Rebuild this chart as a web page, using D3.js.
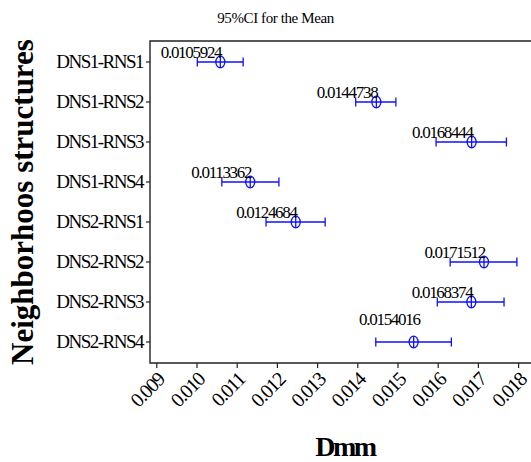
<!DOCTYPE html>
<html>
<head>
<meta charset="utf-8">
<script src="https://cdn.jsdelivr.net/npm/d3@7"></script>
<style>
  body { margin: 0; background: #fff; }
  svg { display: block; font-family: "Liberation Serif", "DejaVu Serif", serif; }
</style>
</head>
<body>
<svg id="chart" width="531" height="462"></svg>
<script>
// groups, top to bottom
var groups = ["DNS1-RNS1", "DNS1-RNS2", "DNS1-RNS3", "DNS1-RNS4",
              "DNS2-RNS1", "DNS2-RNS2", "DNS2-RNS3", "DNS2-RNS4"];
var means = [0.0105924, 0.0144738, 0.0168444, 0.0113362,
             0.0124684, 0.0171512, 0.0168374, 0.0154016];
var lower = [0.01002, 0.01396, 0.01596, 0.01063,
             0.01173, 0.01631, 0.01599, 0.01446];
var upper = [0.01116, 0.01496, 0.01771, 0.01205,
             0.01320, 0.01797, 0.01765, 0.01634];
var xTicks = [0.009, 0.010, 0.011, 0.012, 0.013, 0.014, 0.015, 0.016, 0.017, 0.018];

var svg = d3.select("#chart");
var blue = "#1010ff";

var plotLeft = 150, plotTop = 41, plotBottom = 363, plotRight = 545;

var x = d3.scaleLinear().domain([0.009, 0.018]).range([156.3, 518.1]);
var y = d3.scaleBand().domain(groups).range([42, 362]);

function cy(d) { return y(d) + y.bandwidth() / 2; }

// frame (left + top), bottom axis line
svg.append("path")
    .attr("d", "M" + plotRight + "," + plotTop + "H" + plotLeft + "V" + plotBottom + "H" + plotRight)
    .attr("fill", "none")
    .attr("stroke", "#222")
    .attr("stroke-width", 1.4);

// x axis
var xAxis = svg.append("g")
    .attr("transform", "translate(0," + plotBottom + ")")
    .call(d3.axisBottom(x).tickValues(xTicks).tickSize(5).tickFormat(d3.format(".3f")));
xAxis.select(".domain").remove();
xAxis.selectAll(".tick line").attr("stroke", "#222").attr("stroke-width", 1.2);
xAxis.selectAll(".tick text")
    .attr("font-family", "Liberation Serif, serif")
    .attr("font-size", 20)
    .attr("letter-spacing", -1.3)
    .attr("fill", "#000")
    .attr("text-anchor", "end")
    .attr("transform", "translate(4,13) rotate(-45)")
    .attr("dy", "0.35em")
    .attr("y", 0);

// y axis
var yAxis = svg.append("g")
    .attr("transform", "translate(" + plotLeft + ",0)")
    .call(d3.axisLeft(y).tickSize(4).tickPadding(3));
yAxis.select(".domain").remove();
yAxis.selectAll(".tick line").attr("stroke", "#222").attr("stroke-width", 1.2);
yAxis.selectAll(".tick text")
    .attr("font-family", "Liberation Serif, serif")
    .attr("font-size", 19)
    .attr("letter-spacing", -1.5)
    .attr("fill", "#000");

// CI bars
var rows = svg.append("g").selectAll("g")
    .data(groups)
    .enter().append("g");

rows.append("line")
    .attr("x1", function(d, i) { return x(lower[i]); })
    .attr("x2", function(d, i) { return x(upper[i]); })
    .attr("y1", cy).attr("y2", cy)
    .attr("stroke", blue).attr("stroke-width", 1.3);

rows.append("line")
    .attr("x1", function(d, i) { return x(lower[i]); })
    .attr("x2", function(d, i) { return x(lower[i]); })
    .attr("y1", function(d) { return cy(d) - 4.5; })
    .attr("y2", function(d) { return cy(d) + 4.5; })
    .attr("stroke", blue).attr("stroke-width", 1.3);

rows.append("line")
    .attr("x1", function(d, i) { return x(upper[i]); })
    .attr("x2", function(d, i) { return x(upper[i]); })
    .attr("y1", function(d) { return cy(d) - 4.5; })
    .attr("y2", function(d) { return cy(d) + 4.5; })
    .attr("stroke", blue).attr("stroke-width", 1.3);

// mean marker: crossed ellipse
rows.append("ellipse")
    .attr("cx", function(d, i) { return x(means[i]); })
    .attr("cy", cy)
    .attr("rx", 4.5).attr("ry", 5.8)
    .attr("fill", "none")
    .attr("stroke", blue).attr("stroke-width", 1.3);

rows.append("line")
    .attr("x1", function(d, i) { return x(means[i]); })
    .attr("x2", function(d, i) { return x(means[i]); })
    .attr("y1", function(d) { return cy(d) - 5.8; })
    .attr("y2", function(d) { return cy(d) + 5.8; })
    .attr("stroke", blue).attr("stroke-width", 1.3);

// value labels (last one is lifted above its bar)
rows.append("text")
    .attr("x", function(d, i) { return x(means[i]) + (i === groups.length - 1 ? 6 : 1); })
    .attr("y", function(d, i) { return cy(d) - (i === groups.length - 1 ? 17 : 4); })
    .attr("text-anchor", "end")
    .attr("font-size", 17)
    .attr("letter-spacing", -1.3)
    .attr("fill", "#000")
    .text(function(d, i) { return means[i]; });

// titles
svg.append("text")
    .attr("x", 275.5).attr("y", 23)
    .attr("text-anchor", "middle")
    .attr("font-size", 15)
    .attr("letter-spacing", -0.4)
    .text("95%CI for the Mean");

svg.append("text")
    .attr("x", 345).attr("y", 456)
    .attr("text-anchor", "middle")
    .attr("font-size", 28)
    .attr("font-weight", "bold")
    .attr("letter-spacing", -2.5)
    .text("Dmm");

svg.append("text")
    .attr("transform", "translate(33," + (plotTop + plotBottom) / 2 + ") rotate(-90)")
    .attr("text-anchor", "middle")
    .attr("font-size", 31)
    .attr("font-weight", "bold")
    .text("Neighborhoos structures");
</script>
</body>
</html>
